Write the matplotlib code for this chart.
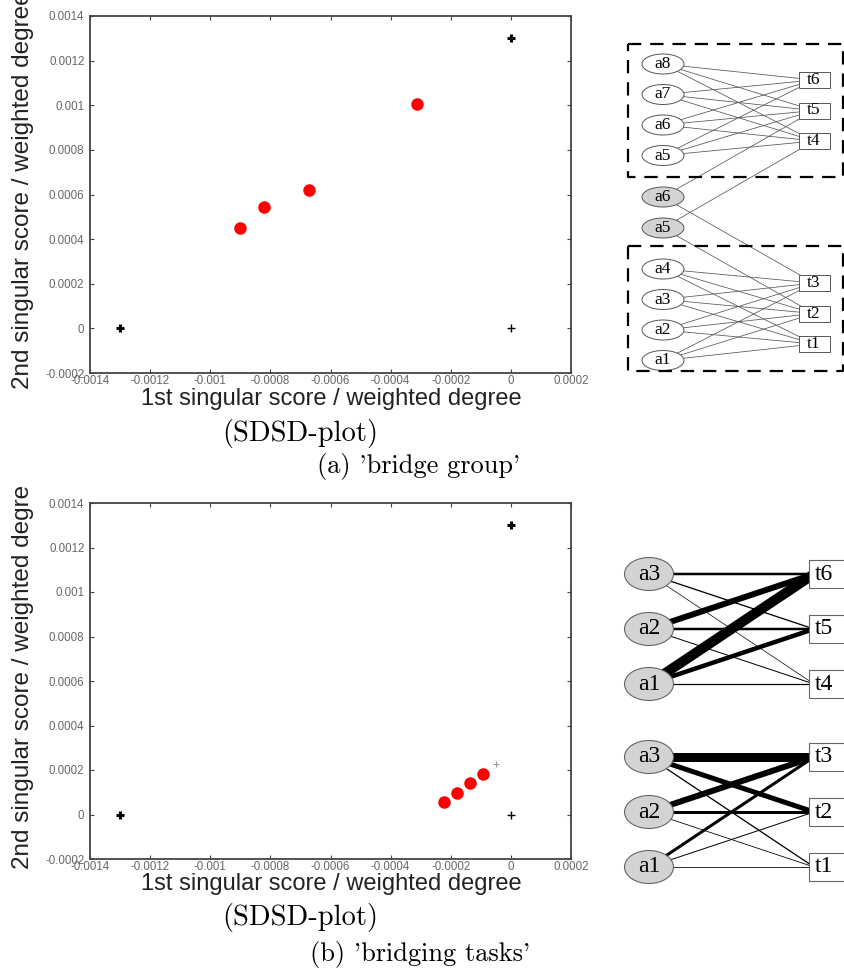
import matplotlib
matplotlib.use('Agg')
import matplotlib.pyplot as plt
from matplotlib.patches import Ellipse, Rectangle
from matplotlib.transforms import Bbox, TransformedBbox

# valores dos dois SDSD-plots
x_ticks = [-0.0014, -0.0012, -0.001, -0.0008, -0.0006, -0.0004, -0.0002, 0, 0.0002]
x_tick_labels = ['-0.0014', '-0.0012', '-0.001', '-0.0008', '-0.0006', '-0.0004', '-0.0002', '0', '0.0002']
y_ticks = [-0.0002, 0, 0.0002, 0.0004, 0.0006, 0.0008, 0.001, 0.0012, 0.0014]
y_tick_labels = ['-0.0002', '0', '0.0002', '0.0004', '0.0006', '0.0008', '0.001', '0.0012', '0.0014']

# (a) bridge group
a_red_x = [-0.0009, -0.00082, -0.000673, -0.000313]
a_red_y = [0.00045, 0.000543, 0.00062, 0.001005]
a_bold_x = [-0.0013, 0]
a_bold_y = [0, 0.0013]
a_thin_x = [0]
a_thin_y = [0]

# (b) bridging tasks
b_red_x = [-0.000223, -0.00018, -0.000137, -0.0000933]
b_red_y = [0.000054, 0.0000987, 0.000143, 0.000184]
b_bold_x = [-0.0013, 0]
b_bold_y = [0, 0.0013]
b_thin_x = [0]
b_thin_y = [0]
b_gray_x = [-0.00005]
b_gray_y = [0.000229]

# grafo (a)
a_top_agents = ['a8', 'a7', 'a6', 'a5']
a_bridge_agents = ['a6', 'a5']
a_low_agents = ['a4', 'a3', 'a2', 'a1']
a_top_tasks = ['t6', 't5', 't4']
a_low_tasks = ['t3', 't2', 't1']
a_bridge_edges = [('a6', 't5'), ('a6', 't3'), ('a5', 't4'), ('a5', 't2')]

# grafo (b): pesos das arestas (agentes x tarefas)
b_agents = ['a3', 'a2', 'a1']
b_top_tasks = ['t6', 't5', 't4']
b_low_tasks = ['t3', 't2', 't1']
b_top_weights = [[2.5, 1.3, 0.7],
                 [6.0, 2.5, 1.0],
                 [10.0, 4.5, 1.2]]
b_low_weights = [[9.0, 5.0, 1.3],
                 [6.0, 3.0, 0.8],
                 [3.0, 1.0, 0.8]]

W, H = 844, 977
fig = plt.figure(figsize=(W / 100, H / 100), dpi=100)


def px(x, y):
    return x / W, 1 - y / H


def sdsd_axes(top, bottom, red_x, red_y, bold_x, bold_y, thin_x, thin_y):
    ax = fig.add_axes([90 / W, 1 - bottom / H, (571 - 90) / W, (bottom - top) / H])
    ax.plot(red_x, red_y, 'o', color='#ff0000', ms=9, mec='none', zorder=3)
    ax.plot(bold_x, bold_y, '+', color='black', ms=6, mew=2.2)
    ax.plot(thin_x, thin_y, '+', color='black', ms=5.5, mew=1.0)
    ax.set_xlim(-0.0014, 0.0002)
    ax.set_ylim(-0.0002, 0.0014)
    ax.set_xticks(x_ticks)
    ax.set_xticklabels(x_tick_labels)
    ax.set_yticks(y_ticks)
    ax.set_yticklabels(y_tick_labels)
    ax.tick_params(direction='in', length=3, width=0.8, colors='#444444',
                   labelcolor='#666666', labelsize=8.3, top=True, right=True,
                   labelfontfamily='Liberation Sans')
    ax.tick_params(axis='x', pad=1.5)
    ax.tick_params(axis='y', pad=4)
    for s in ax.spines.values():
        s.set_color('#444444')
        s.set_linewidth(1.3)
    return ax


ax1 = sdsd_axes(16, 373, a_red_x, a_red_y, a_bold_x, a_bold_y, a_thin_x, a_thin_y)
ax2 = sdsd_axes(503, 859, b_red_x, b_red_y, b_bold_x, b_bold_y, b_thin_x, b_thin_y)
ax2.plot(b_gray_x, b_gray_y, '+', color='#999999', ms=5, mew=0.8)

# rótulos dos eixos
for base, ylab_bottom, clip_top in [(405, 389, 0), (890, 869, 485)]:
    fig.text(*px(331, base), '1st singular score / weighted degree', ha='center',
             va='baseline', fontsize=17, color='#222222', family='Liberation Sans')
    t = fig.text(*px(29, ylab_bottom), '2nd singular score / weighted degree',
                 rotation=90, rotation_mode='anchor', ha='left', va='baseline',
                 fontsize=17.5, color='#222222', family='Liberation Sans')
    t.set_clip_box(TransformedBbox(Bbox([[0, 0], [1, 1 - clip_top / H]]), fig.transFigure))
    t.set_clip_on(True)

# legendas
cap = dict(family='cmr10', color='black', va='center', ha='center')
fig.text(*px(300, 433), '(SDSD-plot)', fontsize=20.5, **cap)
fig.text(*px(419, 467), "(a) 'bridge group'", fontsize=19, **cap)
fig.text(*px(300, 918), '(SDSD-plot)', fontsize=20.5, **cap)
fig.text(*px(420, 955), "(b) 'bridging tasks'", fontsize=19, **cap)

# diagramas à direita, em coordenadas de pixel
gx = fig.add_axes([590 / W, 0, (W - 590) / W, 1])
gx.set_xlim(590, W)
gx.set_ylim(H, 0)
gx.axis('off')

# ---- grafo (a)
ax_x, tx_x = 663, 814
step = 30.5
pos_ag = {}
for i, n in enumerate(a_top_agents):
    pos_ag[('top', n)] = 64 + i * step
for i, n in enumerate(a_bridge_agents):
    pos_ag[('bridge', n)] = 197 + i * 31
for i, n in enumerate(a_low_agents):
    pos_ag[('low', n)] = 269 + i * step
pos_t = {}
for i, n in enumerate(a_top_tasks):
    pos_t[n] = 80 + i * step
for i, n in enumerate(a_low_tasks):
    pos_t[n] = 283 + i * step

edge_kw = dict(color='#555555', lw=0.55, zorder=1)
for a in a_top_agents:
    for t in a_top_tasks:
        gx.plot([ax_x, tx_x], [pos_ag[('top', a)], pos_t[t]], **edge_kw)
for a in a_low_agents:
    for t in a_low_tasks:
        gx.plot([ax_x, tx_x], [pos_ag[('low', a)], pos_t[t]], **edge_kw)
for a, t in a_bridge_edges:
    gx.plot([ax_x, tx_x], [pos_ag[('bridge', a)], pos_t[t]], **edge_kw)

for (grp, n), y in pos_ag.items():
    fc = '#d3d3d3' if grp == 'bridge' else 'white'
    gx.add_patch(Ellipse((ax_x, y), 42, 20, fc=fc, ec='#555555', lw=0.7, zorder=2))
    gx.text(ax_x, y, n, ha='center', va='center', fontsize=12.5,
            family='Liberation Serif', zorder=3)
for n, y in pos_t.items():
    gx.add_patch(Rectangle((tx_x - 15.5, y - 8), 31, 16, fc='white', ec='#555555',
                           lw=0.7, zorder=2))
    gx.text(tx_x, y, n, ha='center', va='center', fontsize=12.5,
            family='Liberation Serif', zorder=3)

# caixas tracejadas
for y0, y1 in [(44, 177), (246, 371)]:
    gx.plot([628, 843, 843, 628, 628], [y0, y0, y1, y1, y0], color='black',
            lw=1.6, ls=(0, (6, 4)), zorder=4, clip_on=False)

# ---- grafo (b)
bx_a, bx_t = 649, 809
bstep = 55
for y0, tasks, weights in [(574, b_top_tasks, b_top_weights), (757, b_low_tasks, b_low_weights)]:
    for i, a in enumerate(b_agents):
        for j, t in enumerate(tasks):
            gx.plot([bx_a, bx_t + 5], [y0 + i * bstep, y0 + j * bstep],
                    color='black', lw=weights[i][j] * 0.72, zorder=1,
                    solid_capstyle='butt')
    for i, a in enumerate(b_agents):
        y = y0 + i * bstep
        gx.add_patch(Ellipse((bx_a, y), 49, 33, fc='#d3d3d3', ec='#666666',
                             lw=0.8, zorder=2))
        gx.text(bx_a, y, a, ha='center', va='center', fontsize=17,
                family='Liberation Serif', zorder=3)
    for j, t in enumerate(tasks):
        y = y0 + j * bstep
        gx.add_patch(Rectangle((bx_t, y - 14), 45, 28, fc='white', ec='#666666',
                               lw=0.8, zorder=2))
        gx.text(bx_t + 15, y, t, ha='center', va='center', fontsize=17,
                family='Liberation Serif', zorder=3)

fig.savefig('out.png', dpi=100)
